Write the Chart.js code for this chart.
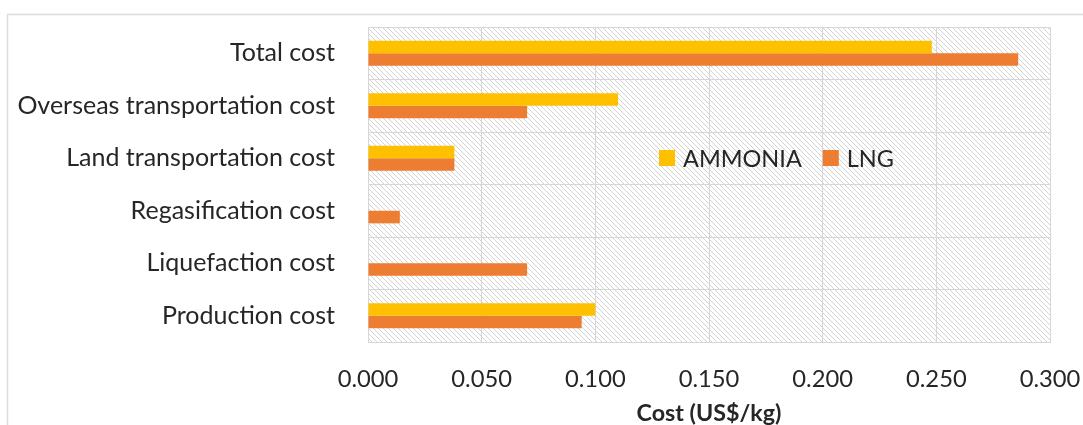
<!DOCTYPE html>
<html>
<head>
<meta charset="utf-8">
<script src="https://cdn.jsdelivr.net/npm/chart.js@4"></script>
<style>
  html, body { margin: 0; padding: 0; background: #ffffff; }
  #wrap { position: relative; width: 1083px; height: 425px; }
  canvas { display: block; }
</style>
</head>
<body>
<div id="wrap"><canvas id="c" width="1083" height="425"></canvas></div>
<script>
// ---- data ----
const categories = ['Total cost', 'Overseas transportation cost', 'Land transportation cost',
                    'Regasification cost', 'Liquefaction cost', 'Production cost'];
const seriesNames = ['AMMONIA', 'LNG'];
const ammoniaValues = [0.248, 0.110, 0.038, 0, 0, 0.100];
const lngValues = [0.286, 0.070, 0.038, 0.014, 0.070, 0.094];
const xTicks = [0, 0.05, 0.10, 0.15, 0.20, 0.25, 0.30];
const xTitle = 'Cost (US$/kg)';

// ---- style ----
const FONT = 'Lato';
const colors = ['#FFC000', '#ED7D31'];
const textColor = '#262626';
const gridColor = '#d6d6d6';
const clear = 'rgba(0,0,0,0)';

// size font so longest label matches reference width
const mctx = document.createElement('canvas').getContext('2d');
mctx.font = '100px ' + FONT;
const refW = mctx.measureText('Overseas transportation cost').width;
const fs = Math.round(100 * 317 / refW * 10) / 10;

function makePattern(ctx) {
  const s = 5;
  const pc = document.createElement('canvas');
  pc.width = s; pc.height = s;
  const p = pc.getContext('2d');
  p.fillStyle = '#ffffff';
  p.fillRect(0, 0, s, s);
  p.strokeStyle = '#d3d3d3';
  p.lineWidth = 1;
  p.beginPath();
  p.moveTo(-1, -1); p.lineTo(s + 1, s + 1);
  p.moveTo(-1, s - 1); p.lineTo(1, s + 1);
  p.moveTo(s - 1, -1); p.lineTo(s + 1, 1);
  p.stroke();
  return ctx.createPattern(pc, 'repeat');
}

const bgPlugin = {
  id: 'bg',
  beforeDraw(chart) {
    const ctx = chart.ctx;
    const a = chart.chartArea;
    ctx.save();
    ctx.fillStyle = '#ffffff';
    ctx.fillRect(0, 0, chart.width, chart.height);
    // outer chart border (top/left visible)
    ctx.strokeStyle = '#dcdcdc';
    ctx.lineWidth = 1.5;
    ctx.beginPath();
    ctx.moveTo(7.5, chart.height);
    ctx.lineTo(7.5, 14.5);
    ctx.lineTo(chart.width, 14.5);
    ctx.stroke();
    ctx.fillStyle = makePattern(ctx);
    ctx.fillRect(a.left, a.top, a.right - a.left, a.bottom - a.top);
    ctx.restore();
  }
};

const legendPlugin = {
  id: 'innerLegend',
  afterDatasetsDraw(chart) {
    const ctx = chart.ctx;
    ctx.save();
    ctx.font = fs * 0.94 + 'px ' + FONT;
    ctx.textBaseline = 'middle';
    ctx.textAlign = 'left';
    const cy = 158;
    let x = 659;
    chart.data.datasets.forEach((ds, i) => {
      ctx.fillStyle = ds.backgroundColor;
      ctx.fillRect(x, cy - 8, 16, 16);
      ctx.fillStyle = textColor;
      ctx.fillText(ds.label, x + 24, cy + 1);
      x += 24 + ctx.measureText(ds.label).width + 21;
    });
    ctx.restore();
  }
};

new Chart(document.getElementById('c'), {
  type: 'bar',
  data: {
    labels: categories,
    datasets: [
      { label: seriesNames[0], data: ammoniaValues, backgroundColor: colors[0] },
      { label: seriesNames[1], data: lngValues, backgroundColor: colors[1] }
    ]
  },
  options: {
    indexAxis: 'y',
    responsive: false,
    animation: false,
    devicePixelRatio: 1,
    layout: { padding: { top: 27, right: 33, bottom: 0, left: 0 } },
    datasets: { bar: { categoryPercentage: 0.48, barPercentage: 1.0, borderWidth: 0 } },
    plugins: {
      legend: { display: false },
      tooltip: { enabled: false }
    },
    scales: {
      x: {
        type: 'linear',
        min: xTicks[0],
        max: xTicks[xTicks.length - 1],
        afterBuildTicks(scale) { scale.ticks = xTicks.map(v => ({ value: v })); },
        afterFit(scale) { scale.height = 83; },
        grid: { color: gridColor, lineWidth: 1, drawTicks: true, tickLength: 23, tickColor: clear },
        border: { color: gridColor, width: 1 },
        ticks: {
          padding: 0,
          color: textColor,
          font: { family: FONT, size: fs * 0.95 },
          callback: v => Number(v).toFixed(3)
        },
        title: {
          display: true,
          text: xTitle,
          color: textColor,
          font: { family: FONT, size: fs * 0.93, weight: 'bold', lineHeight: 1 },
          padding: { top: 0, bottom: 0 }
        }
      },
      y: {
        afterFit(scale) { scale.width = 368; },
        grid: { color: gridColor, lineWidth: 1, drawTicks: true, tickLength: 33, tickColor: clear, offset: true },
        border: { color: gridColor, width: 1 },
        ticks: {
          padding: 0,
          color: textColor,
          font: { family: FONT, size: fs }
        }
      }
    }
  },
  plugins: [bgPlugin, legendPlugin]
});
</script>
</body>
</html>
